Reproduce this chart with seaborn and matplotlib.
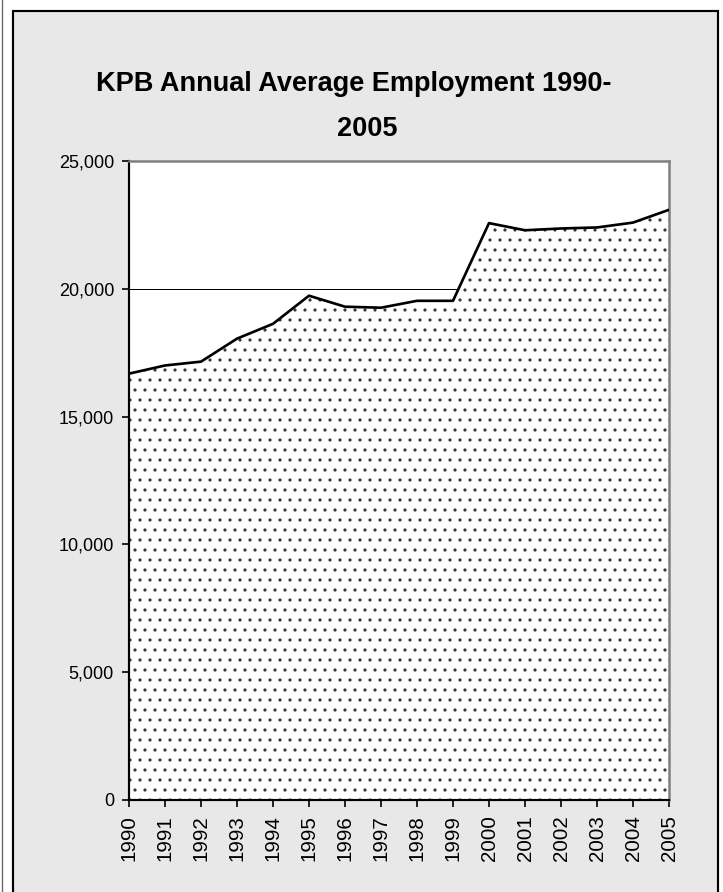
import matplotlib
matplotlib.use('Agg')
import matplotlib.pyplot as plt
from matplotlib.patches import Rectangle
from matplotlib.lines import Line2D
from matplotlib.ticker import FuncFormatter
import numpy as np
import pandas as pd
import seaborn as sns

# data
years = [1990, 1991, 1992, 1993, 1994, 1995, 1996, 1997,
         1998, 1999, 2000, 2001, 2002, 2003, 2004, 2005]
employment = [16680, 17000, 17150, 18050, 18630, 19730, 19300, 19260,
              19530, 19530, 22570, 22290, 22360, 22400, 22590, 23090]
y_ticks = [0, 5000, 10000, 15000, 20000, 25000]
title_line1 = 'KPB Annual Average Employment 1990-'
title_line2 = '2005'

df = pd.DataFrame({'Year': years, 'Employment': employment})

sns.set_style('white')
plt.rcParams['font.family'] = ['Liberation Sans', 'DejaVu Sans']
plt.rcParams['hatch.linewidth'] = 0.7
plt.rcParams['hatch.color'] = '#333333'
plt.rcParams['text.color'] = 'black'
plt.rcParams['xtick.color'] = 'black'
plt.rcParams['ytick.color'] = 'black'

DPI = 120
fig = plt.figure(figsize=(723 / DPI, 892 / DPI), dpi=DPI, facecolor='white')

# grey chart-area panel with a black frame (cut at the bottom, like the source)
fig.patches.append(Rectangle((12.5 / 723, -0.02), 705 / 723, 0.02 + (892 - 10.5) / 892,
                             transform=fig.transFigure, facecolor='#e8e8e8',
                             edgecolor='black', linewidth=1.3, zorder=-10))
fig.lines.append(Line2D([1.5 / 723, 1.5 / 723], [0, 1], transform=fig.transFigure,
                        color='#666666', linewidth=0.8, zorder=-10))

ax = fig.add_axes([129 / 723, (892 - 800) / 892, 540 / 723, (800 - 161) / 892])
ax.set_zorder(1)
ax.set_facecolor('white')
ax.set_axisbelow(True)

# gridlines (only the one above the area remains visible)
ax.yaxis.grid(True, color='black', linewidth=0.6, zorder=0)

ax.fill_between(df['Year'], df['Employment'], 0, facecolor='white',
                edgecolor='#333333', linewidth=0, hatch='..', zorder=1)
sns.lineplot(data=df, x='Year', y='Employment', color='black', linewidth=1.6,
             ax=ax, zorder=3)

ax.set_xlim(years[0], years[-1])
ax.set_ylim(0, 25000)
ax.set_xticks(years)
ax.set_xticklabels([str(y) for y in years], rotation=90, fontsize=12.3)
ax.set_yticks(y_ticks)
ax.yaxis.set_major_formatter(FuncFormatter(lambda v, p: f'{int(v):,}'))
ax.tick_params(axis='y', labelsize=10.8, length=4, width=1, direction='out',
               left=True, pad=5)
ax.tick_params(axis='x', length=4, width=1, direction='out', bottom=True, pad=5)
ax.set_xlabel('')
ax.set_ylabel('')

for side in ['left', 'bottom']:
    ax.spines[side].set_color('black')
    ax.spines[side].set_linewidth(1.3)
for side in ['top', 'right']:
    ax.spines[side].set_color('#808080')
    ax.spines[side].set_linewidth(1.5)

fig.text(354 / 723, 1 - 84 / 892, title_line1, ha='center', va='center',
         fontsize=16.3, fontweight='bold', color='black')
fig.text(367 / 723, 1 - 129 / 892, title_line2, ha='center', va='center',
         fontsize=16.3, fontweight='bold', color='black')

fig.savefig('out.png', dpi=DPI, facecolor='white')
